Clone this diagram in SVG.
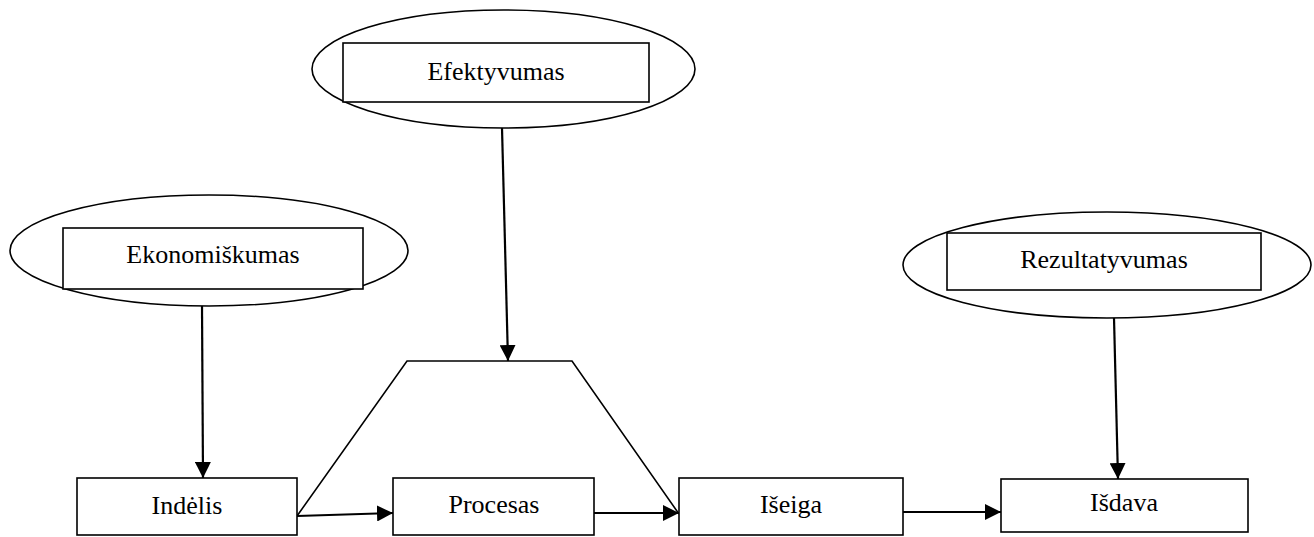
<svg xmlns="http://www.w3.org/2000/svg" width="1314" height="537" viewBox="0 0 1314 537">
  <style>
    .shape { fill: #ffffff; stroke: #000000; stroke-width: 1.6; }
    .outline { fill: none; stroke: #000000; stroke-width: 1.6; }
    .label { font-family: "Liberation Serif", "Times New Roman", serif; font-size: 26px; fill: #000000; text-anchor: middle; }
    .conn { fill: none; stroke: #000000; stroke-width: 2.2; }
  </style>
  <defs>
    <marker id="arrow" viewBox="0 0 16 16" refX="16" refY="8" markerWidth="16" markerHeight="16" markerUnits="userSpaceOnUse" orient="auto">
      <path d="M0,0 L16,8 L0,16 Z" fill="#000000"/>
    </marker>
  </defs>

  <rect width="1314" height="537" fill="#ffffff"/>

  <!-- Indicator ellipses with framed labels -->
  <g id="efektyvumas">
    <ellipse class="shape" cx="503.5" cy="69" rx="191.5" ry="59"/>
    <rect class="shape" x="343" y="43" width="306" height="59"/>
    <text class="label" x="496" y="80">Efektyvumas</text>
  </g>
  <g id="ekonomiskumas">
    <ellipse class="shape" cx="209" cy="250.5" rx="199" ry="55.5"/>
    <rect class="shape" x="63" y="228" width="300" height="61"/>
    <text class="label" x="213" y="263">Ekonomiškumas</text>
  </g>
  <g id="rezultatyvumas">
    <ellipse class="shape" cx="1107" cy="265" rx="204" ry="53"/>
    <rect class="shape" x="947" y="233" width="314" height="57"/>
    <text class="label" x="1104" y="268">Rezultatyvumas</text>
  </g>

  <!-- Process trapezoid spanning input to output -->
  <g id="proceso-ribos">
    <polyline class="outline" points="297,516 407,361 572,361 679,514"/>
  </g>

  <!-- Chain boxes -->
  <g id="indelis">
    <rect class="shape" x="77" y="478" width="220" height="57"/>
    <text class="label" x="187" y="514">Indėlis</text>
  </g>
  <g id="procesas">
    <rect class="shape" x="393" y="478" width="201" height="57"/>
    <text class="label" x="494" y="513">Procesas</text>
  </g>
  <g id="iseiga">
    <rect class="shape" x="679" y="478" width="224" height="57"/>
    <text class="label" x="791" y="513">Išeiga</text>
  </g>
  <g id="isdava">
    <rect class="shape" x="1001" y="479" width="247" height="53"/>
    <text class="label" x="1124" y="511">Išdava</text>
  </g>

  <!-- Connectors -->
  <g id="connectors">
    <line class="conn" x1="202" y1="306" x2="203" y2="478" marker-end="url(#arrow)"/>
    <line class="conn" x1="502" y1="128" x2="508" y2="361" marker-end="url(#arrow)"/>
    <line class="conn" x1="1114" y1="318" x2="1118" y2="479" marker-end="url(#arrow)"/>
    <line class="conn" x1="297" y1="516" x2="393" y2="513" marker-end="url(#arrow)"/>
    <line class="conn" x1="594" y1="513" x2="679" y2="513" marker-end="url(#arrow)"/>
    <line class="conn" x1="903" y1="512" x2="1001" y2="512" marker-end="url(#arrow)"/>
  </g>
</svg>
